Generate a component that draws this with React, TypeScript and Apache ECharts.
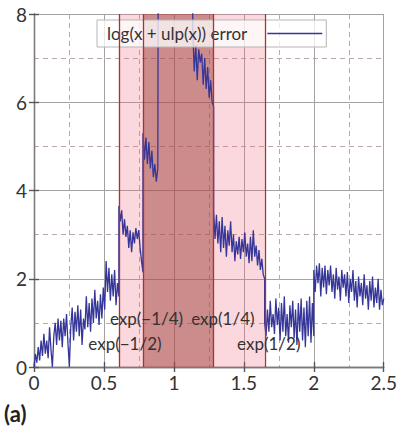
import React, { useEffect, useRef } from "react";
import * as echarts from "echarts";

const FONT = "Lato, 'Open Sans', sans-serif";
const SERIES_NAME = "log(x + ulp(x)) error";

// Interval boundaries (shaded bands and red guide lines)
const LO_OUTER = Math.exp(-1 / 2);
const LO_INNER = Math.exp(-1 / 4);
const HI_INNER = Math.exp(1 / 4);
const HI_OUTER = Math.exp(1 / 2);

// Axis ticks
const X_TICKS = [0, 0.5, 1, 1.5, 2, 2.5];
const Y_TICKS = [0, 2, 4, 6, 8];

// Error samples, evenly spaced within each x range
const ERR_A = [
  0.0, 0.3, 0.1, 0.45, 0.15, 0.6, 0.25, 0.75, 0.3, 0.6,
  0.2, 0.9, 0.4, 0.0, 0.7, 1.0, 0.5, 1.1, 0.6, 1.05,
  0.45, 1.1, 0.7, 1.2, 0.55, 0.0, 0.9, 1.35, 0.6, 1.25,
  0.8, 1.4, 0.7, 1.3, 0.5, 1.1, 0.85, 1.6, 0.9, 1.45,
  0.8, 1.55, 1.0, 1.75, 1.1, 1.5, 0.95, 1.65, 1.1, 1.8,
  1.3, 2.4, 1.7, 2.25, 1.5, 2.1, 1.6, 2.2, 1.4, 1.9, 1.6,
];
const ERR_B = [
  3.65, 3.3, 3.55, 3.0, 3.35, 2.95, 3.2, 2.7, 3.1,
  2.6, 3.05, 2.8, 3.15, 2.9, 3.1, 2.7, 2.4, 2.15,
];
const ERR_C = [5.3, 4.7, 5.2, 4.6, 5.1, 4.5, 4.9, 4.3, 4.6, 4.2, 4.5];
const ERR_D = [12.5, 13.2, 12.8, 13.6, 12.9, 13.1, 12.4];
const ERR_E = [
  7.6, 6.7, 7.3, 6.5, 7.2, 6.9, 7.1, 6.4, 7.0, 6.3, 6.8, 6.1, 6.5, 6.0, 5.9,
];
const ERR_F = [
  3.55, 2.9, 3.45, 2.8, 3.3, 2.6, 3.4, 2.7, 3.2, 2.5,
  3.1, 2.75, 3.3, 2.6, 3.0, 2.4, 2.85, 2.55, 2.95, 2.45,
  2.9, 2.6, 3.05, 2.5, 2.8, 2.35, 2.95, 2.4, 3.1, 2.5,
  2.75, 2.3, 2.65, 2.2, 2.45, 2.1, 2.0,
];
const ERR_G = [
  1.0, 0.7, 1.3, 0.8, 1.5, 0.9, 1.2, 0.75, 1.55, 0.95,
  1.35, 0.6, 1.45, 0.8, 1.6, 0.7, 1.2, 0.55, 1.4, 0.9,
  1.5, 0.65, 1.3, 0.5, 1.45, 0.8, 1.55, 0.6, 1.35, 0.45,
  1.5, 0.7, 1.6, 0.55, 1.45, 0.7,
];
const ERR_H = [
  2.2, 1.7, 2.3, 1.9, 2.35, 1.6, 2.25, 1.8, 2.3, 1.65,
  2.2, 1.85, 2.3, 1.7, 2.1, 1.55, 2.25, 1.75, 2.05, 1.5,
  2.2, 1.8, 2.1, 1.6, 2.15, 1.45, 2.0, 1.7, 2.2, 1.5,
  1.95, 1.35, 2.05, 1.6, 1.9, 1.4, 2.1, 1.55, 1.85, 1.3,
  1.95, 1.5, 2.05, 1.35, 1.8, 1.45, 2.0, 1.3, 1.75, 1.4, 1.55,
];

const SEGMENTS: { from: number; to: number; values: number[] }[] = [
  { from: 0, to: LO_OUTER, values: ERR_A },
  { from: LO_OUTER, to: LO_INNER, values: ERR_B },
  { from: LO_INNER, to: 0.885, values: ERR_C },
  { from: 0.89, to: 1.13, values: ERR_D },
  { from: 1.135, to: HI_INNER, values: ERR_E },
  { from: HI_INNER, to: HI_OUTER, values: ERR_F },
  { from: HI_OUTER, to: 2.0, values: ERR_G },
  { from: 2.0, to: 2.5, values: ERR_H },
];

const BAND_LABELS = [
  { text: "exp(\u22121/4)", x: 0.804, y: 1.09 },
  { text: "exp(1/4)", x: 1.35, y: 1.09 },
  { text: "exp(\u22121/2)", x: 0.65, y: 0.54 },
  { text: "exp(1/2)", x: 1.678, y: 0.54 },
];

function buildPoints(): [number, number][] {
  const pts: [number, number][] = [];
  SEGMENTS.forEach((seg) => {
    const n = seg.values.length;
    seg.values.forEach((v, i) => {
      pts.push([seg.from + ((seg.to - seg.from) * i) / (n - 1), v]);
    });
  });
  return pts;
}

const GRID = { left: 34, right: 9, top: 14, bottom: 59 };
const AXIS_COLOR = "#7a7a7a";
const LINE_COLOR = "#36369a";

function xAxisDef(position: "bottom" | "top", inside: boolean, primary: boolean) {
  return {
    type: "value",
    position,
    min: 0,
    max: 2.5,
    interval: 0.5,
    axisLine: { show: primary, lineStyle: { color: AXIS_COLOR, width: 1.3 } },
    axisTick: { show: true, inside, length: 5, lineStyle: { color: "#555", width: 1.2 } },
    axisLabel: {
      show: primary && position === "bottom",
      fontFamily: FONT,
      fontSize: 19,
      color: "#333",
      margin: 6,
      alignMinLabel: "center",
      alignMaxLabel: "center",
      formatter: (v: number) => (X_TICKS.includes(v) ? String(v) : ""),
    },
    splitLine: {
      show: primary && position === "bottom",
      lineStyle: { color: "#a3a3a3", width: 1 },
    },
    minorTick: { show: false, splitNumber: 2 },
    minorSplitLine: {
      show: primary && position === "bottom",
      lineStyle: { color: "#bba9a9", width: 1, type: [5, 4] },
    },
  };
}

function yAxisDef(position: "left" | "right", inside: boolean, primary: boolean) {
  return {
    type: "value",
    position,
    min: 0,
    max: 8,
    interval: 2,
    axisLine: { show: primary, lineStyle: { color: AXIS_COLOR, width: 1.3 } },
    axisTick: { show: true, inside, length: 5, lineStyle: { color: "#555", width: 1.2 } },
    axisLabel: {
      show: primary && position === "left",
      fontFamily: FONT,
      fontSize: 19,
      color: "#333",
      margin: 7,
      formatter: (v: number) => (Y_TICKS.includes(v) ? String(v) : ""),
    },
    splitLine: {
      show: primary && position === "left",
      lineStyle: { color: "#a3a3a3", width: 1 },
    },
    minorTick: { show: false, splitNumber: 2 },
    minorSplitLine: {
      show: primary && position === "left",
      lineStyle: { color: "#bba9a9", width: 1, type: [5, 4] },
    },
  };
}

export default function App() {
  const ref = useRef<HTMLDivElement>(null);

  useEffect(() => {
    document.body.style.margin = "0";
    if (!ref.current) return;
    const chart = echarts.init(ref.current, undefined, { renderer: "svg" });

    chart.setOption({
      animation: false,
      backgroundColor: "#ffffff",
      grid: GRID,
      xAxis: [
        xAxisDef("bottom", false, true),
        xAxisDef("bottom", true, false),
        xAxisDef("top", false, true),
        xAxisDef("top", true, false),
      ],
      yAxis: [
        yAxisDef("left", false, true),
        yAxisDef("left", true, false),
        yAxisDef("right", false, true),
        yAxisDef("right", true, false),
      ],
      legend: {
        data: [{ name: SERIES_NAME, icon: "rect", itemStyle: { color: LINE_COLOR } }],
        left: 97,
        top: 20,
        align: "right",
        itemWidth: 55,
        itemHeight: 1.3,
        padding: [5, 4, 5, 10],
        backgroundColor: "rgba(255,255,255,0.75)",
        borderColor: "#b5b5b5",
        borderWidth: 1,
        textStyle: {
          fontFamily: FONT,
          fontSize: 17,
          color: "#333",
          padding: [0, 15, 0, 0],
        },
      },
      series: [
        {
          name: "bands",
          type: "line",
          data: [],
          z: 1,
          silent: true,
          markArea: {
            silent: true,
            data: [
              [
                { xAxis: LO_OUTER, itemStyle: { color: "rgba(239,99,119,0.25)" } },
                { xAxis: HI_OUTER },
              ],
              [
                { xAxis: LO_INNER, itemStyle: { color: "rgba(159,64,59,0.5)" } },
                { xAxis: HI_INNER },
              ],
            ],
          },
          markLine: {
            silent: true,
            symbol: "none",
            label: { show: false },
            lineStyle: { color: "#b0302c", width: 1.3, type: "solid" },
            data: [LO_OUTER, LO_INNER, HI_INNER, HI_OUTER].map((v) => ({ xAxis: v })),
          },
        },
        {
          name: SERIES_NAME,
          type: "line",
          data: buildPoints(),
          z: 3,
          showSymbol: false,
          symbol: "none",
          clip: true,
          lineStyle: { color: LINE_COLOR, width: 1.3 },
          itemStyle: { color: LINE_COLOR },
        },
        {
          name: "band labels",
          type: "line",
          data: [],
          z: 5,
          silent: true,
          markPoint: {
            silent: true,
            symbol: "circle",
            symbolSize: 1,
            itemStyle: { color: "rgba(0,0,0,0)" },
            label: {
              show: true,
              position: "inside",
              fontFamily: FONT,
              fontSize: 17,
              color: "#333",
              formatter: (p: any) => p.name,
            },
            data: BAND_LABELS.map((l) => ({ name: l.text, coord: [l.x, l.y] })),
          },
        },
      ],
      graphic: [
        {
          type: "text",
          left: 4,
          top: 402,
          style: {
            text: "(a)",
            fontFamily: FONT,
            fontSize: 22,
            fontWeight: "bold",
            fill: "#222",
          },
        },
      ],
    });

    return () => chart.dispose();
  }, []);

  return <div ref={ref} style={{ width: 400, height: 426 }} />;
}
